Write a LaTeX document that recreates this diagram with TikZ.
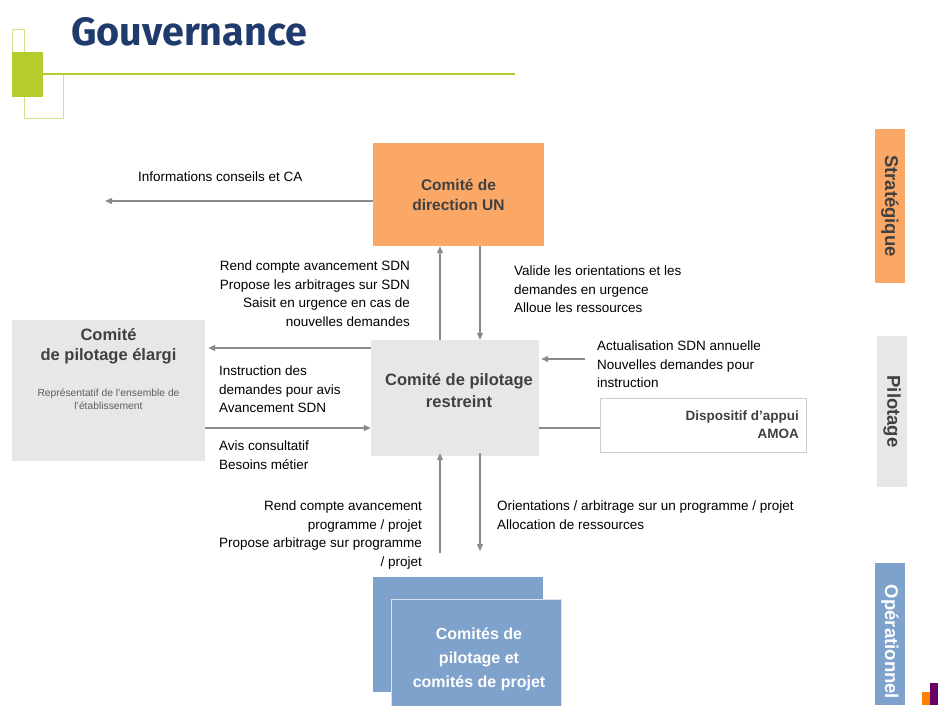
\documentclass[tikz,border=0pt]{standalone}
\usepackage{fontspec}
\setmainfont{Liberation Sans}
\newfontfamily\titlefont{Fira Sans}
\usetikzlibrary{arrows.meta}
\definecolor{titleblue}{HTML}{1F3B6E}
\definecolor{lime}{HTML}{B5CC2A}
\definecolor{limelight}{HTML}{D3E08A}
\definecolor{orangebox}{HTML}{FBA866}
\definecolor{greybox}{HTML}{E7E7E7}
\definecolor{bluebox}{HTML}{7EA2CB}
\definecolor{textgrey}{HTML}{404040}
\definecolor{arrowgrey}{HTML}{8A8A8A}
\tikzset{
  body/.style={font=\fontsize{13.5}{18.5}\selectfont, text=black, inner sep=0pt},
  boxtitle/.style={font=\fontsize{15.5}{20}\selectfont\bfseries, text=textgrey, align=center},
  arr/.style={draw=arrowgrey, line width=1.3pt, -{Triangle[length=7pt,width=6pt]}},
  plain/.style={draw=arrowgrey, line width=1.3pt},
  band/.style={minimum width=30pt, inner sep=0pt, font=\fontsize{18.5}{20}\selectfont\bfseries, rotate=-90}
}
\begin{document}
\begin{tikzpicture}[x=1pt,y=-1pt]
\useasboundingbox (0,0) rectangle (938,705);
% header decoration
\draw[limelight, line width=1pt] (12,52) -- (12,29) -- (24,29) -- (24,118) -- (63,118) -- (63,73);
\fill[lime] (12,52) rectangle (43,97);
\draw[lime, line width=2pt] (12,74) -- (515,74);
\node[anchor=west, inner sep=0pt, text=titleblue, font=\titlefont\fontsize{39.5}{41}\selectfont\bfseries] (title) at (71,32) {Gouvernance};

% strategic box
\node[fill=orangebox, minimum width=171pt, minimum height=103pt, boxtitle] (dir) at (458.5,194.5) {Comité de\\direction UN};
\coordinate (infoEnd) at (105,201);
\draw[arr] (dir.west |- infoEnd) -- (infoEnd);
\node[body, anchor=west] (info) at (138,177) {Informations conseils et CA};

% restreint box
\node[fill=greybox, minimum width=168pt, minimum height=116pt] (cpr) at (455,398) {};
\node[boxtitle, font=\fontsize{16.5}{22}\selectfont\bfseries] (cprT) at (459,391) {Comité de pilotage\\restreint};

\coordinate (xA) at (440,0);
\coordinate (xB) at (480,0);
\draw[arr] (cpr.north -| xA) -- (dir.south -| xA);
\draw[arr] (dir.south -| xB) -- (cpr.north -| xB);
\node[body, anchor=north east, align=right] (upTxt) at (410,261) {Rend compte avancement SDN\\Propose les arbitrages sur SDN\\Saisit en urgence en cas de\\nouvelles demandes};
\node[body, anchor=north west, align=left] (downTxt) at (514,266) {Valide les orientations et les\\demandes en urgence\\Alloue les ressources};

% elargi box
\node[fill=greybox, minimum width=193pt, minimum height=141pt] (ela) at (108.5,390.5) {};
\node[boxtitle, anchor=north, font=\fontsize{16.5}{19.5}\selectfont\bfseries] (elaT) at (108.5,325) {Comité\\de pilotage élargi};
\node[anchor=north, align=center, text=textgrey!85, inner sep=0pt, font=\fontsize{10.3}{13}\selectfont] (elaS) at (108.5,389) {Représentatif de l'ensemble de\\l'établissement};

\coordinate (yC) at (0,348);
\coordinate (yD) at (0,428);
\draw[arr] (cpr.west |- yC) -- ([xshift=3pt]ela.east |- yC);
\draw[arr] (ela.east |- yD) -- (cpr.west |- yD);
\node[body, anchor=north west, align=left] (instr) at (219,366) {Instruction des\\demandes pour avis\\Avancement SDN};
\node[body, anchor=north west, align=left] (avis) at (219,441) {Avis consultatif\\Besoins métier};

% right side inputs
\coordinate (actStart) at (585,359);
\draw[arr] (actStart) -- ([xshift=2pt]cpr.east |- actStart);
\node[body, anchor=north west, align=left] (act) at (597,341) {Actualisation SDN annuelle\\Nouvelles demandes pour\\instruction};
\node[draw=black!20, fill=white, minimum width=206pt, minimum height=54pt] (amoa) at (703,425) {};
\node[anchor=north east, align=right, inner sep=0pt, text=textgrey, font=\fontsize{13.5}{17.5}\selectfont\bfseries] (amoaT) at (799,411) {Dispositif d’appui\\AMOA};
\draw[plain] (cpr.east |- yD) -- (amoa.west |- yD);

% operational boxes
\node[fill=bluebox, minimum width=170pt, minimum height=115pt] (opBack) at (458,634.5) {};
\node[fill=bluebox, draw=white!70!bluebox, line width=0.8pt, minimum width=170pt, minimum height=110pt] (op) at (476,654) {};
\node[text=white, font=\fontsize{16}{24}\selectfont\bfseries, align=center] (opT) at (479,659) {Comités de\\pilotage et\\comités de projet};

\coordinate (upStart) at (440,553);
\draw[arr] (upStart) -- ([yshift=3pt]cpr.south -| xA);
\coordinate (downEnd) at (480,551);
\draw[arr] ([yshift=3pt]cpr.south -| xB) -- (downEnd);
\node[body, anchor=north east, align=right] (opUp) at (422,501) {Rend compte avancement\\programme / projet\\Propose arbitrage sur programme\\/ projet};
\node[body, anchor=north west, align=left] (opDown) at (497,501) {Orientations / arbitrage sur un programme / projet\\Allocation de ressources};

% right bands
\fill[orangebox] (875,129) rectangle (905,283);
\node[band, text=textgrey] (bS) at (890,206) {Stratégique};
\fill[greybox] (877,336) rectangle (907,487);
\node[band, text=textgrey] (bP) at (892,411.5) {Pilotage};
\fill[bluebox] (875,563) rectangle (905,705);
\node[band, text=white] (bO) at (890,642) {Opérationnel};

% logo corner
\fill[orange] (922,692) rectangle (930,705);
\fill[violet!80!black] (930,683) rectangle (938,705);
\end{tikzpicture}
\end{document}
